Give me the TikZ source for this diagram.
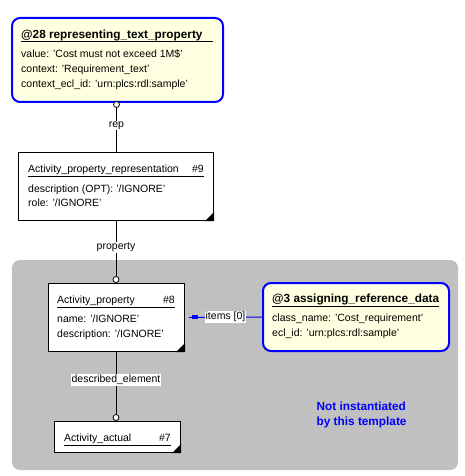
\documentclass[tikz,border=0pt]{standalone}
\usepackage{fontspec}
\setmainfont{Liberation Sans}
\definecolor{tblue}{RGB}{0,0,255}
\definecolor{tyellow}{RGB}{255,255,225}
\definecolor{tgray}{RGB}{192,192,192}
\tikzset{
  ent/.style={draw=black, line width=1pt, fill=white, inner sep=0pt, anchor=north west},
  tmpl/.style={draw=tblue, line width=2pt, fill=tyellow, rounded corners=8pt, inner sep=0pt, anchor=north west},
  txt/.style={anchor=base west, inner sep=0pt, font=\fontsize{10.5}{12}\selectfont},
  txtr/.style={anchor=base east, inner sep=0pt, font=\fontsize{10.5}{12}\selectfont},
  ttl/.style={anchor=base west, inner sep=0pt, font=\bfseries\fontsize{11.8}{13}\selectfont},
  uline/.style={draw=black, line width=1pt},
  conn/.style={draw=black, line width=1pt},
  circ/.style={circle, draw=black, line width=0.8pt, fill=white, inner sep=0pt, minimum size=6pt},
  lbl/.style={fill=white, inner sep=1pt, font=\fontsize{10.5}{12}\selectfont},
  corner/.style={fill=black},
  note/.style={anchor=base west, inner sep=0pt, text=tblue, font=\bfseries\fontsize{11.8}{13}\selectfont}
}
\begin{document}
\begin{tikzpicture}[x=1pt,y=-1pt]
\useasboundingbox (0,0) rectangle (464,476);
% gray region
\fill[tgray, rounded corners=8pt] (12,260) rectangle (458,470);

% @28
\node[tmpl, minimum width=211pt, minimum height=84pt] (b28) at (11,17) {};
\node[ttl] (t28) at (21,38.5) {@28 representing\_text\_property};
\draw[uline] (21,42) -- (213,42);
\node[txt] (a28a) at (21,57.5) {value: 'Cost must not exceed 1M\$'};
\node[txt] (a28b) at (21,72.5) {context: 'Requirement\_text'};
\node[txt] (a28c) at (21,87.5) {context\_ecl\_id: 'urn:plcs:rdl:sample'};

% #9
\node[ent, minimum width=195pt, minimum height=68pt] (b9) at (18,152) {};
\node[txt] (t9) at (28,172) {Activity\_property\_representation};
\node[txtr] (n9) at (204,172) {\#9};
\draw[uline] (28,176) -- (204,176);
\node[txt] (a9a) at (28,192.5) {description (OPT): '/IGNORE'};
\node[txt] (a9b) at (28,206) {role: '/IGNORE'};
\fill[corner] (b9.south east) -- ++(-9,0) -- ++(9,-9) -- cycle;

% #8
\node[ent, minimum width=136pt, minimum height=68pt] (b8) at (48,283) {};
\node[txt] (t8) at (57,303) {Activity\_property};
\node[txtr] (n8) at (175,303) {\#8};
\draw[uline] (57,307) -- (175,307);
\node[txt] (a8a) at (57,322.5) {name: '/IGNORE'};
\node[txt] (a8b) at (57,337.5) {description: '/IGNORE'};
\fill[corner] (b8.south east) -- ++(-9,0) -- ++(9,-9) -- cycle;

% #7
\node[ent, minimum width=126pt, minimum height=31pt] (b7) at (54,421) {};
\node[txt] (t7) at (64,441) {Activity\_actual};
\node[txtr] (n7) at (171,441) {\#7};
\draw[uline] (64,445) -- (171,445);
\fill[corner] (b7.south east) -- ++(-9,0) -- ++(9,-9) -- cycle;

% @3
\node[tmpl, minimum width=186pt, minimum height=68pt] (b3) at (262,282) {};
\node[ttl] (t3) at (272,302) {@3 assigning\_reference\_data};
\draw[uline] (272,306) -- (439,306);
\node[txt] (a3a) at (272,321.5) {class\_name: 'Cost\_requirement'};
\node[txt] (a3b) at (272,336.5) {ecl\_id: 'urn:plcs:rdl:sample'};

% connectors
\node[circ] (c28) at (116.5,104.5) {};
\draw[conn] (c28) -- node[lbl, pos=0.4] {rep} (b9.north -| c28);
\node[circ] (c8) at (116,279.5) {};
\draw[conn] (b9.south -| c8) -- node[lbl, pos=0.48] {property} (c8);
\node[circ] (c7) at (116,417.5) {};
\draw[conn] (b8.south -| c7) -- node[lbl, pos=0.45] {described\_element} (c7);
\coordinate (e8) at ([xshift=4pt]b8.east);
\draw[draw=tblue, line width=1pt] (b3.west) -- node[lbl, pos=0.5] {items [0]} (e8);
\fill[tblue] (192,315) rectangle (198,318.5);

% note
\node[note] (n1) at (316.5,410) {Not instantiated};
\node[note] (n2) at (316.5,425.5) {by this template};
\end{tikzpicture}
\end{document}
